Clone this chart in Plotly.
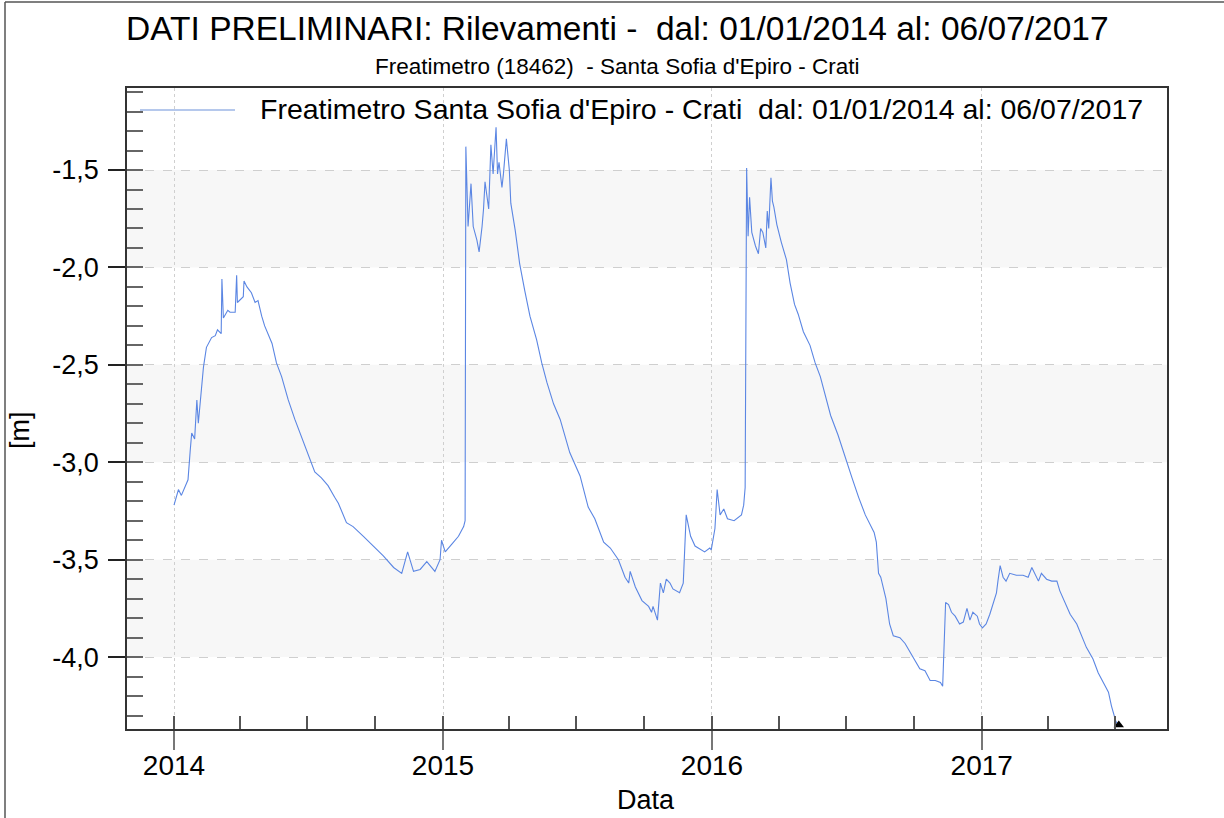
import pandas as pd
import plotly.graph_objects as go

# ---- data ----
start_date = "2014-01-01"
day_offset = [
    0, 6, 10, 15, 19, 22, 24, 28, 31, 33, 37, 40, 44, 51, 56, 59, 64, 65, 67, 73,
    76, 83, 85, 86, 94, 95, 99, 105, 110, 114, 119, 123, 133, 139, 146, 155, 164, 173, 182, 191,
    200, 209, 218, 223, 234, 243, 257, 270, 284, 298, 309, 317, 325, 334, 343, 354, 361, 363, 368, 377,
    386, 393, 395, 396, 397, 398, 399, 403, 406, 411, 414, 418, 420, 422, 427, 430, 433, 437, 439, 441,
    445, 447, 451, 455, 457, 463, 469, 476, 483, 492, 499, 506, 515, 524, 535, 537, 551, 562, 571, 583,
    592, 603, 612, 617, 619, 626, 635, 644, 648, 650, 656, 660, 664, 668, 673, 677, 686, 691, 695, 701,
    707, 716, 720, 727, 729, 734, 737, 741, 746, 751, 760, 770, 773, 775, 777, 779, 781, 784, 789, 793,
    796, 799, 803, 805, 807, 810, 812, 814, 818, 824, 831, 836, 842, 847, 854, 863, 870, 877, 885, 891,
    901, 910, 920, 929, 938, 950, 953, 956, 959, 966, 971, 976, 985, 992, 1003, 1012, 1019, 1026, 1033, 1040,
    1043, 1045, 1047, 1051, 1055, 1060, 1066, 1071, 1076, 1080, 1084, 1090, 1093, 1097, 1102, 1107, 1112, 1116, 1118, 1121,
    1125, 1129, 1134, 1143, 1152, 1159, 1164, 1168, 1173, 1177, 1184, 1191, 1198, 1202, 1209, 1216, 1225, 1232, 1238, 1247,
    1254, 1261, 1268, 1272, 1278, 1282,
]
level_m = [
    -3.22, -3.14, -3.17, -3.12, -3.09, -2.94, -2.85, -2.88, -2.68, -2.80, -2.64, -2.51, -2.41, -2.36, -2.35, -2.32, -2.34, -2.06, -2.26, -2.22,
    -2.23, -2.23, -2.04, -2.18, -2.15, -2.07, -2.10, -2.13, -2.18, -2.17, -2.25, -2.30, -2.39, -2.49, -2.56, -2.68, -2.78, -2.87, -2.97, -3.05,
    -3.08, -3.12, -3.18, -3.21, -3.31, -3.33, -3.38, -3.43, -3.48, -3.54, -3.57, -3.46, -3.56, -3.55, -3.51, -3.56, -3.50, -3.40, -3.46, -3.42,
    -3.38, -3.33, -3.30, -1.38, -1.50, -1.74, -1.79, -1.57, -1.79, -1.86, -1.92, -1.79, -1.70, -1.56, -1.70, -1.37, -1.52, -1.28, -1.52, -1.46,
    -1.59, -1.52, -1.34, -1.50, -1.67, -1.81, -1.98, -2.12, -2.25, -2.37, -2.49, -2.59, -2.70, -2.78, -2.92, -2.95, -3.07, -3.23, -3.29, -3.41,
    -3.44, -3.50, -3.59, -3.62, -3.56, -3.64, -3.71, -3.74, -3.77, -3.74, -3.81, -3.62, -3.67, -3.60, -3.62, -3.65, -3.67, -3.62, -3.27, -3.38,
    -3.43, -3.45, -3.46, -3.44, -3.45, -3.34, -3.14, -3.27, -3.24, -3.29, -3.30, -3.27, -3.22, -3.13, -1.49, -1.84, -1.64, -1.82, -1.89, -1.93,
    -1.80, -1.82, -1.90, -1.71, -1.80, -1.54, -1.66, -1.69, -1.78, -1.87, -1.96, -2.08, -2.19, -2.24, -2.33, -2.40, -2.49, -2.56, -2.67, -2.76,
    -2.86, -2.97, -3.08, -3.18, -3.27, -3.36, -3.41, -3.57, -3.59, -3.70, -3.83, -3.89, -3.90, -3.93, -4.00, -4.06, -4.07, -4.12, -4.12, -4.13,
    -4.15, -3.95, -3.72, -3.73, -3.77, -3.79, -3.83, -3.82, -3.75, -3.81, -3.77, -3.79, -3.83, -3.85, -3.83, -3.78, -3.72, -3.67, -3.61, -3.53,
    -3.59, -3.61, -3.57, -3.58, -3.58, -3.59, -3.54, -3.57, -3.61, -3.57, -3.60, -3.61, -3.61, -3.66, -3.72, -3.78, -3.83, -3.89, -3.95, -4.01,
    -4.08, -4.13, -4.18, -4.25, -4.33, -4.35,
]
y_tick_vals = [-1.5, -2.0, -2.5, -3.0, -3.5, -4.0]
y_tick_text = ["-1,5", "-2,0", "-2,5", "-3,0", "-3,5", "-4,0"]
x_tick_vals = ["2014-01-01", "2015-01-01", "2016-01-01", "2017-01-01"]
x_tick_text = ["2014", "2015", "2016", "2017"]

title_text = "DATI PRELIMINARI: Rilevamenti -  dal: 01/01/2014 al: 06/07/2017"
subtitle_text = "Freatimetro (18462)  - Santa Sofia d'Epiro - Crati"
legend_text = "Freatimetro Santa Sofia d'Epiro - Crati  dal: 01/01/2014 al: 06/07/2017"

# ---- figure ----
dates = pd.Timestamp(start_date) + pd.to_timedelta(day_offset, unit="D")
line_color = "#5b86e3"
FONT = "Arial, Liberation Sans, sans-serif"
W, H = 1224, 818
L, R, T, B = 127, 1167, 88, 729
y_range = [-4.369, -1.079]
x_range = ["2013-10-29 05:00", "2017-09-09 10:00"]


def px(xp):
    return (xp - L) / (R - L)


def py(yp):
    return (B - yp) / (B - T)


fig = go.Figure()
fig.add_trace(go.Scatter(
    x=dates, y=level_m, mode="lines",
    line=dict(color=line_color, width=1.1), showlegend=False, hoverinfo="x+y",
))
# end-of-series marker sitting on the bottom axis
fig.add_trace(go.Scatter(
    x=[dates[-1]], y=[y_range[0] + 0.02], mode="markers",
    marker=dict(symbol="triangle-up", size=9, color="black"),
    showlegend=False, cliponaxis=False,
))

shapes = []
# alternating shaded bands
for i in range(0, len(y_tick_vals) - 1, 2):
    shapes.append(dict(type="rect", xref="paper", yref="y", x0=0, x1=1,
                       y0=y_tick_vals[i + 1], y1=y_tick_vals[i],
                       fillcolor="#f7f7f7", line=dict(width=0), layer="below"))
# white area behind legend (hides grid)
shapes.append(dict(type="rect", xref="paper", yref="paper", x0=0.001, x1=0.999,
                   y0=py(125), y1=0.998, fillcolor="white", line=dict(width=0),
                   layer="between"))
# legend line sample
shapes.append(dict(type="line", xref="paper", yref="paper", x0=px(140), x1=px(235),
                   y0=py(110), y1=py(110), line=dict(color="#9db6e6", width=1.5)))
# outer frame (top & left)
shapes.append(dict(type="line", xref="paper", yref="paper", x0=px(5), x1=px(1224),
                   y0=py(2), y1=py(2), line=dict(color="#555", width=1.5)))
shapes.append(dict(type="line", xref="paper", yref="paper", x0=px(5), x1=px(5),
                   y0=py(2), y1=py(818), line=dict(color="#555", width=1.5)))

annotations = [
    dict(text=title_text, xref="paper", yref="paper", x=px(617), y=py(28),
         showarrow=False, font=dict(family=FONT, size=33.5, color="black"),
         xanchor="center", yanchor="middle"),
    dict(text=subtitle_text, xref="paper", yref="paper", x=px(617), y=py(66),
         showarrow=False, font=dict(family=FONT, size=22.5, color="black"),
         xanchor="center", yanchor="middle"),
    dict(text=legend_text, xref="paper", yref="paper", x=px(258), y=py(109),
         showarrow=False, font=dict(family=FONT, size=28.5, color="black"),
         xanchor="left", yanchor="middle"),
    dict(text="Data", xref="paper", yref="paper", x=px(646), y=py(800),
         showarrow=False, font=dict(family=FONT, size=27, color="black"),
         xanchor="center", yanchor="middle"),
    dict(text="[m]", xref="paper", yref="paper", x=px(20), y=py(430),
         showarrow=False, font=dict(family=FONT, size=27, color="black"),
         textangle=-90, xanchor="center", yanchor="middle"),
]

fig.update_layout(
    width=W, height=H,
    margin=dict(l=L, r=W - R, t=T, b=H - B, pad=0),
    paper_bgcolor="white", plot_bgcolor="white",
    font=dict(family=FONT, size=27, color="black"),
    shapes=shapes, annotations=annotations, showlegend=False,
)
fig.update_xaxes(
    type="date", range=x_range,
    tickvals=x_tick_vals, ticktext=x_tick_text,
    ticks="outside", ticklen=19, tickcolor="#777", tickwidth=1.5,
    tickfont=dict(size=28, family=FONT, color="black"),
    ticklabelstandoff=-8,
    showgrid=True, gridcolor="#cfcfcf", griddash="dot", gridwidth=1,
    minor=dict(ticks="inside", ticklen=13, tickcolor="#555", tickwidth=1.5,
               dtick="M3", tick0="2014-01-01", showgrid=False),
    showline=True, linecolor="#333", linewidth=1.5, mirror=True,
    zeroline=False,
)
fig.update_yaxes(
    range=y_range,
    tickvals=y_tick_vals, ticktext=y_tick_text,
    ticks="outside", ticklen=17, tickcolor="#222", tickwidth=1.5,
    tickfont=dict(size=27, family=FONT, color="black"),
    ticklabelstandoff=4,
    showgrid=True, gridcolor="#cfcfcf", griddash="dash", gridwidth=1,
    minor=dict(ticks="inside", ticklen=16, tickcolor="#666", tickwidth=1.5,
               dtick=0.1, tick0=0, showgrid=False),
    showline=True, linecolor="#333", linewidth=1.5, mirror=True,
    zeroline=False,
)

fig.write_html("out.html", config={"displayModeBar": False},
               post_script="document.body.style.margin='0px';")
